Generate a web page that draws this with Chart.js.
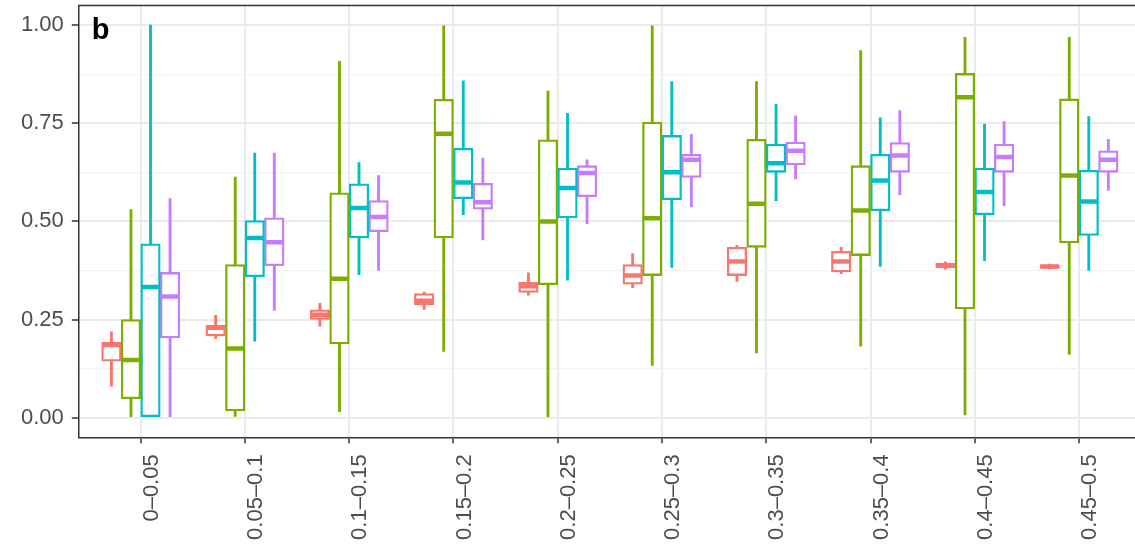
<!DOCTYPE html>
<html>
<head>
<meta charset="utf-8">
<script src="https://cdn.jsdelivr.net/npm/chart.js@4"></script>
<style>
html,body{margin:0;padding:0;background:#fff;overflow:hidden;}
#wrap{width:1135px;height:547px;}
</style>
</head>
<body>
<div id="wrap"><canvas id="c" width="1135" height="547"></canvas></div>
<script>
// Categories (x axis)
const categories = ['0–0.05','0.05–0.1','0.1–0.15','0.15–0.2','0.2–0.25','0.25–0.3','0.3–0.35','0.35–0.4','0.4–0.45','0.45–0.5'];
// Five-number summaries per category: [whiskerLow, q1, median, q3, whiskerHigh]
const seriesRed = [
  [0.080,0.144,0.185,0.192,0.219],
  [0.201,0.208,0.229,0.235,0.261],
  [0.233,0.250,0.262,0.275,0.291],
  [0.276,0.287,0.298,0.316,0.320],
  [0.312,0.319,0.335,0.345,0.369],
  [0.331,0.340,0.362,0.390,0.418],
  [0.347,0.362,0.398,0.434,0.439],
  [0.367,0.371,0.398,0.424,0.434],
  [0.378,0.382,0.388,0.394,0.397],
  [0.379,0.381,0.385,0.389,0.391]
];
const seriesGreen = [
  [0.000,0.048,0.147,0.250,0.530],
  [0.003,0.017,0.176,0.390,0.613],
  [0.015,0.188,0.354,0.573,0.908],
  [0.169,0.458,0.723,0.811,0.998],
  [0.002,0.339,0.500,0.708,0.832],
  [0.133,0.362,0.508,0.753,0.998],
  [0.165,0.434,0.545,0.709,0.856],
  [0.182,0.413,0.528,0.642,0.935],
  [0.007,0.277,0.816,0.877,0.969],
  [0.161,0.445,0.617,0.812,0.969]
];
const seriesCyan = [
  [0.000,0.000,0.333,0.443,1.000],
  [0.195,0.359,0.458,0.502,0.674],
  [0.364,0.458,0.534,0.596,0.650],
  [0.517,0.558,0.599,0.686,0.858],
  [0.350,0.509,0.585,0.636,0.775],
  [0.383,0.555,0.625,0.719,0.856],
  [0.553,0.625,0.648,0.697,0.798],
  [0.385,0.527,0.604,0.671,0.764],
  [0.400,0.517,0.575,0.636,0.748],
  [0.375,0.464,0.551,0.630,0.767]
];
const seriesPurple = [
  [0.000,0.203,0.309,0.370,0.558],
  [0.273,0.387,0.447,0.509,0.674],
  [0.375,0.474,0.511,0.553,0.617],
  [0.453,0.531,0.549,0.597,0.661],
  [0.494,0.563,0.623,0.642,0.657],
  [0.537,0.612,0.657,0.671,0.722],
  [0.608,0.644,0.680,0.702,0.769],
  [0.568,0.625,0.668,0.701,0.782],
  [0.540,0.625,0.664,0.697,0.754],
  [0.579,0.625,0.657,0.680,0.709]
];
const yTickValues = [0, 0.125, 0.25, 0.375, 0.5, 0.625, 0.75, 0.875, 1.0];
const panelLabel = 'b';

const seriesList = [seriesRed, seriesGreen, seriesCyan, seriesPurple];
const colors = ['#F8766D', '#7CAE00', '#00BFC4', '#C77CFF'];
const offsets = [-0.28125, -0.09375, 0.09375, 0.28125];
const BOX_W = 19.5;

const datasets = [];
seriesList.forEach((s, k) => {
  const col = colors[k], off = offsets[k];
  datasets.push({
    type: 'scatter',
    data: s.map((r, i) => ({x: i + off, y: r[2]})),
    pointStyle: 'line', pointRadius: BOX_W/2 - 0.5, pointHoverRadius: BOX_W/2 - 0.5,
    borderColor: col, pointBorderWidth: 4.5, borderWidth: 4.5, backgroundColor: col,
    order: 0
  });
  datasets.push({
    type: 'bar',
    data: s.map((r, i) => ({x: i + off, y: [r[1], r[3]]})),
    backgroundColor: '#ffffff', borderColor: col, borderWidth: 2.3,
    borderSkipped: false, barThickness: BOX_W, grouped: false,
    order: 1
  });
  datasets.push({
    type: 'bar',
    data: s.map((r, i) => ({x: i + off, y: [r[0], r[4]]})),
    backgroundColor: col, borderWidth: 0, barThickness: 2.2, grouped: false,
    order: 2
  });
});

const frame = {
  id: 'frame',
  afterDraw(chart) {
    const {ctx, chartArea: a} = chart;
    ctx.save();
    ctx.strokeStyle = '#333333';
    ctx.lineWidth = 1.5;
    ctx.beginPath();
    ctx.moveTo(a.left - 0.75, a.top);
    ctx.lineTo(a.right, a.top);
    ctx.stroke();
    ctx.fillStyle = '#000';
    ctx.font = 'bold 29px "Liberation Sans", Arial, sans-serif';
    ctx.textBaseline = 'alphabetic';
    ctx.textAlign = 'left';
    ctx.fillText(panelLabel, a.left + 13, a.top + 33.5);
    ctx.restore();
  }
};

const tickFont = {family: '"Liberation Sans", Arial, sans-serif', size: 22};
const isMajor = v => Math.abs(v / 0.25 - Math.round(v / 0.25)) < 1e-6;

new Chart(document.getElementById('c'), {
  type: 'bar',
  data: {datasets},
  plugins: [frame],
  options: {
    responsive: false,
    animation: false,
    layout: {autoPadding: false, padding: {top: 5.5, left: 0, right: 0, bottom: 0}},
    plugins: {legend: {display: false}, tooltip: {enabled: false}, title: {display: false}},
    scales: {
      x: {
        type: 'linear',
        min: -0.594, max: 9.537,
        offset: false,
        afterBuildTicks: sc => { sc.ticks = categories.map((c, i) => ({value: i})); },
        afterFit: sc => { sc.height = 109.7; sc.paddingLeft = 0; sc.paddingRight = 0; sc.paddingTop = 0; sc.paddingBottom = 0; },
        ticks: {
          autoSkip: false, minRotation: 90, maxRotation: 90, labelOffset: 11,
          color: '#4D4D4D', font: {...tickFont, lineHeight: 0.9}, padding: 11,
          callback: (v) => categories[Math.round(v)] ?? ''
        },
        grid: {offset: false, color: '#EBEBEB', lineWidth: 2, tickLength: 6, tickColor: '#333333', tickWidth: 1.5, drawTicks: true},
        border: {display: true, color: '#333333', width: 1.5}
      },
      y: {
        type: 'linear',
        min: -0.05, max: 1.05,
        afterBuildTicks: sc => { sc.ticks = yTickValues.map(v => ({value: v})); },
        afterFit: sc => { sc.width = 78.8; sc.paddingTop = 0; sc.paddingBottom = 0; sc.paddingLeft = 0; sc.paddingRight = 0; },
        ticks: {
          color: '#4D4D4D', font: tickFont, padding: 8,
          callback: v => isMajor(v) ? v.toFixed(2) : ''
        },
        grid: {
          color: ctx => isMajor(ctx.tick.value) ? '#EBEBEB' : '#F2F2F2',
          lineWidth: ctx => isMajor(ctx.tick.value) ? 2 : 1.2,
          tickLength: 7,
          tickColor: ctx => isMajor(ctx.tick.value) ? '#333333' : 'rgba(0,0,0,0)',
          tickWidth: 1.5
        },
        border: {display: true, color: '#333333', width: 1.5}
      }
    }
  }
});
</script>
</body>
</html>
